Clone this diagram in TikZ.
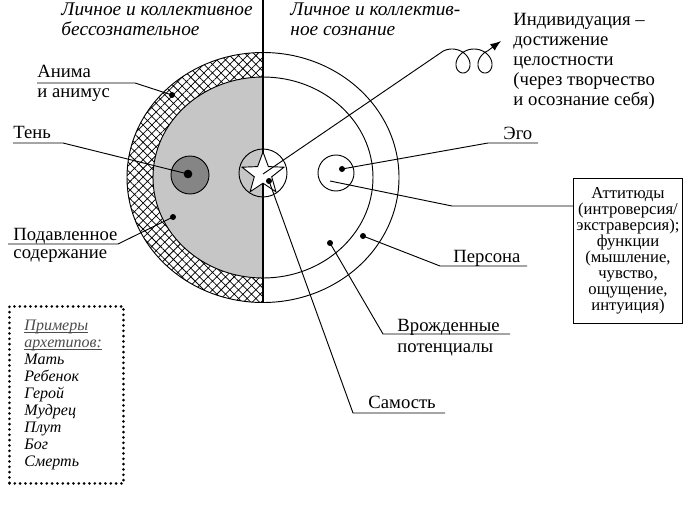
\documentclass[tikz,border=0pt]{standalone}
\usepackage{fontspec}
\setmainfont{Liberation Serif}
\usetikzlibrary{positioning, arrows.meta, shapes.geometric, patterns.meta, calc}
\newcommand\archul[1]{\textcolor{black!70}{\underline{\smash{#1}}}\vphantom{#1}}

\begin{document}
\begin{tikzpicture}[x=0.75pt, y=-0.75pt, line width=0.7pt,
    txt/.style={font=\fontsize{14}{15}\selectfont, inner sep=0pt, anchor=base west},
    hdr/.style={font=\fontsize{14.5}{15}\selectfont\itshape, inner sep=0pt, anchor=base west},
    pt/.style={circle, fill=black, inner sep=0pt, minimum size=4.5pt},
    ring/.style={circle, draw, inner sep=0pt}]
  \fill[white] (0,0) rectangle (683,511);
  \useasboundingbox (0,0) rectangle (683,511);

  % psyche: outer and middle ellipse, split by the axis
  \coordinate (psy) at (263,177.5);
  \begin{scope}
    \clip (0,0) rectangle (263,511);
    \fill[pattern={Hatch[angle=45, distance=4.6pt, line width=0.55pt]}] (psy) ellipse [x radius=136, y radius=125];
    \fill[gray!45] (psy) ellipse [x radius=110, y radius=100.5];
  \end{scope}
  \draw (psy) ellipse [x radius=136, y radius=125];
  \draw (psy) ellipse [x radius=110, y radius=100.5];
  \coordinate (axis-top) at (263,0);
  \coordinate (axis-bot) at (263,302.5);
  \draw[line width=0.9pt] (axis-top) -- (axis-bot);
  \draw[line width=2pt] (263,52.5) -- (263,77) (263,278) -- (263,302.5);

  % self, shadow, ego
  \node[ring, minimum size=36pt] (selfring) at (263,173) {};
  \node[star, star points=5, star point ratio=2.4, draw, fill=white, inner sep=0pt, minimum size=33pt] (selfstar) at (263,174) {};
  \node[ring, fill=black!48, minimum size=28.5pt] (shadow) at (190,175) {};
  \node[pt, minimum size=6.5pt] (shadowdot) at (188,174) {};
  \node[ring, fill=white, minimum size=27pt] (ego) at (336,173) {};

  \node[pt] (animadot) at (172,95) {};
  \node[pt] (repdot) at (173,217) {};
  \node[pt] (egodot) at (342,169) {};
  \node[pt] (persdot) at (363,236) {};
  \node[pt] (potdot) at (330,243) {};
  \node[pt] (selfdot) at (269,181) {};
  \coordinate (attstart) at (330,181);

  % headings
  \node[hdr] (unc1) at (61,15) {Личное и коллективное};
  \node[hdr] (unc2) at (61,35) {бессознательное};
  \node[hdr] (con1) at (290,15) {Личное и коллектив-};
  \node[hdr] (con2) at (290,35) {ное сознание};

  % labels
  \node[txt] (anima1) at (37,77) {Анима};
  \node[txt] (anima2) at (37,97) {и анимус};
  \node[txt] (shadowlbl) at (13,138) {Тень};
  \node[txt] (rep1) at (13,240) {Подавленное};
  \node[txt] (rep2) at (13,258) {содержание};
  \node[txt] (egolbl) at (503,139) {Эго};
  \node[txt] (perslbl) at (453,262) {Персона};
  \node[txt] (pot1) at (397,331) {Врожденные};
  \node[txt] (pot2) at (397,352) {потенциалы};
  \node[txt] (selflbl) at (368,408) {Самость};
  \node[txt, anchor=north west, align=left] (indlbl) at (513,13)
    {Индивидуация –\\достижение\\целостности\\(через творчество\\и осознание себя)};

  \node[draw, line width=0.6pt, align=center, font=\fontsize{12.5}{12}\selectfont,
    minimum width=81pt, minimum height=108.75pt, inner sep=2pt] (att) at (628,250.5)
    {Аттитюды\\(интроверсия/\\экстраверсия);\\функции\\(мышление,\\чувство,\\ощущение,\\интуиция)};

  \node[draw, line width=2.2pt, dash pattern=on 0pt off 4pt, line cap=round, anchor=north west,
    minimum width=85.5pt, minimum height=132.75pt, text width=63pt, inner xsep=11pt, align=left,
    font=\fontsize{12}{12.7}\selectfont\itshape] (arch) at (8,305)
    {\archul{Примеры}\\\archul{архетипов:}\\Мать\\Ребенок\\Герой\\Мудрец\\Плут\\Бог\\Смерть};

  % leaders
  \coordinate (anima-k) at (135,83);  \coordinate (anima-e) at (37,83);
  \coordinate (shadow-k) at (63,143); \coordinate (shadow-e) at (13,143);
  \coordinate (rep-k) at (118,244);   \coordinate (rep-e) at (8,244);
  \coordinate (ego-k) at (488,143);   \coordinate (ego-e) at (538,143);
  \coordinate (att-k) at (452,206);
  \coordinate (pers-k) at (440,266);  \coordinate (pers-e) at (527,266);
  \coordinate (pot-k) at (383,334);   \coordinate (pot-e) at (510,334);
  \coordinate (self-k) at (353,413);  \coordinate (self-e) at (445,413);
  \coordinate (ind-a) at (443.15,51.1); \coordinate (ind-tip) at (501,41);

  \draw (animadot.center) -- (anima-k) -- (anima-e);
  \draw (shadowdot.center) -- (shadow-k) -- (shadow-e);
  \draw (repdot.center) -- (rep-k) -- (rep-e);
  \draw (egodot.center) -- (ego-k) -- (ego-e);
  \draw (attstart) -- (att-k) -- (att-k -| att.west);
  \draw (persdot.center) -- (pers-k) -- (pers-e);
  \draw (potdot.center) -- (pot-k) -- (pot-e);
  \draw (selfdot.center) -- (self-k) -- (self-e);
  \draw[-{Latex[length=8pt,width=6pt]}] (selfstar.center) -- (ind-a)
    -- plot[domain=-214.3:509, samples=120] ({463+0.061087*\x-12*sin(\x)}, {61+12*cos(\x)})
    -- (ind-tip);
\end{tikzpicture}
\end{document}
